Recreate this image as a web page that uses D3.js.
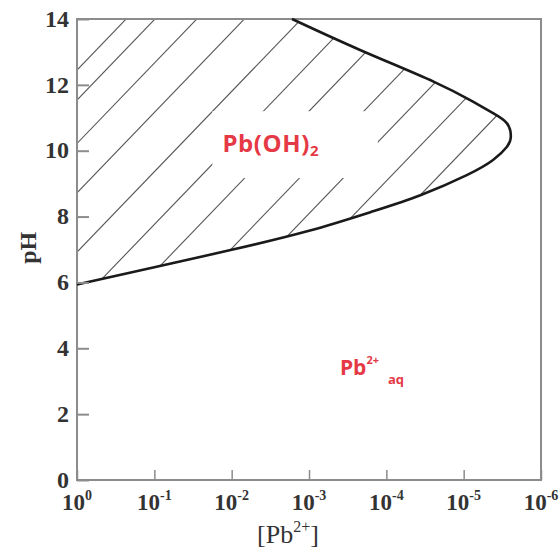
<!DOCTYPE html>
<html>
<head>
<meta charset="utf-8">
<script src="https://cdn.jsdelivr.net/npm/d3@7"></script>
<style>
  body { margin: 0; background: #fff; }
  svg { display: block; }
  .serif { font-family: "Liberation Serif", "Times New Roman", serif; fill: #333; }
  .field { font-family: "Open Sans", "Noto Sans", sans-serif; font-weight: 700; fill: #e53945; }
</style>
</head>
<body>
<svg id="chart"></svg>
<script>
// boundary of the Pb(OH)2 field
// n is the exponent of [Pb2+] = 10^-n, pH is the matching value
const boundaryExp = [0, 1.0, 2.0, 3.0, 3.8, 4.44, 5.04, 5.38, 5.56, 5.61, 5.56, 5.38, 5.12, 4.61, 3.66, 2.78];
const boundaryPH  = [5.94, 6.46, 6.99, 7.57, 8.14, 8.65, 9.26, 9.72, 10.12, 10.43, 10.83, 11.14, 11.49, 12.10, 13.06, 14.0];

// hatch lines: pH where each one meets the [Pb2+] = 1 edge
const hatchIntercepts = [12.45, 11.54, 10.22, 8.72, 6.92, 5.32, 3.88, 2.15, 0.77, -0.68, -2.18];
const hatchSlope = 2.44; // pH per decade

const xTickExps = [0, 1, 2, 3, 4, 5, 6];
const yTicks = [0, 2, 4, 6, 8, 10, 12, 14];

const W = 560, H = 551;
const margin = { top: 19, right: 19, bottom: 71, left: 77 };

const conc = n => Math.pow(10, -n);

const x = d3.scaleLog()
    .domain([1, 1e-6])
    .range([margin.left, W - margin.right]);

const y = d3.scaleLinear()
    .domain([0, 14])
    .range([H - margin.bottom, margin.top]);

const svg = d3.select('#chart')
    .attr('width', W)
    .attr('height', H);

const pts = boundaryExp.map((n, i) => [conc(n), boundaryPH[i]]);

const line = d3.line()
    .x(d => x(d[0]))
    .y(d => y(d[1]))
    .curve(d3.curveNatural);

// field outline closed along the top and left edges, used to clip the hatch
svg.append('clipPath').attr('id', 'field')
    .append('path')
    .attr('d', line(pts) + `L${x(1)},${y(14)}Z`);

svg.append('g')
    .attr('clip-path', 'url(#field)')
    .selectAll('line')
    .data(hatchIntercepts)
    .join('line')
    .attr('x1', x(1))
    .attr('y1', c => y(c))
    .attr('x2', x(1e-6))
    .attr('y2', c => y(c + hatchSlope * 6))
    .attr('stroke', '#555')
    .attr('stroke-width', 1.1);

// blank patch behind the Pb(OH)2 label
svg.append('rect')
    .attr('x', x(conc(1.75)))
    .attr('y', y(11.2))
    .attr('width', x(conc(3.89)) - x(conc(1.75)))
    .attr('height', y(9.17) - y(11.2))
    .attr('fill', '#fff');

// frame
svg.append('rect')
    .attr('x', margin.left)
    .attr('y', margin.top)
    .attr('width', W - margin.left - margin.right)
    .attr('height', H - margin.top - margin.bottom)
    .attr('fill', 'none')
    .attr('stroke', '#8c8c8c')
    .attr('stroke-width', 2);

// boundary curve
svg.append('path')
    .attr('d', line(pts))
    .attr('fill', 'none')
    .attr('stroke', '#1a1a1a')
    .attr('stroke-width', 2.6);

// x axis ticks (inward)
const gx = svg.append('g')
    .attr('transform', `translate(0,${y(0)})`)
    .call(d3.axisBottom(x)
        .tickValues(xTickExps.map(conc))
        .tickSize(-10)
        .tickFormat(''));
gx.select('.domain').remove();
gx.selectAll('line').attr('stroke', '#8c8c8c').attr('stroke-width', 1.5);

const xl = svg.append('g')
    .selectAll('text')
    .data(xTickExps)
    .join('text')
    .attr('class', 'serif')
    .attr('x', n => x(conc(n)))
    .attr('y', y(0) + 30)
    .attr('text-anchor', 'middle')
    .style('font-size', '23px')
    .style('font-weight', 'bold');
xl.append('tspan').text('10');
xl.append('tspan')
    .attr('dy', -10)
    .style('font-size', '14px')
    .text(n => n === 0 ? '0' : '-' + n);

// y axis ticks (inward)
const gy = svg.append('g')
    .attr('transform', `translate(${x(1)},0)`)
    .call(d3.axisLeft(y)
        .tickValues(yTicks)
        .tickSize(-12)
        .tickPadding(8)
        .tickFormat(d3.format('d')));
gy.select('.domain').remove();
gy.selectAll('line').attr('stroke', '#8c8c8c').attr('stroke-width', 2);
gy.selectAll('text')
    .attr('class', 'serif')
    .attr('dy', '0.3em')
    .style('font-size', '24px')
    .style('font-weight', 'bold');

// axis titles
const xt = svg.append('text')
    .attr('class', 'serif')
    .attr('x', 288)
    .attr('y', y(0) + 63)
    .attr('text-anchor', 'middle')
    .style('font-size', '26px');
xt.append('tspan').text('[Pb');
xt.append('tspan').attr('dy', -11).style('font-size', '16px').text('2+');
xt.append('tspan').attr('dy', 11).text(']');

svg.append('text')
    .attr('class', 'serif')
    .attr('transform', `translate(36,${y(7.05)}) rotate(-90)`)
    .attr('text-anchor', 'middle')
    .style('font-size', '24px')
    .style('font-weight', 'bold')
    .text('pH');

// field labels
const l1 = svg.append('text')
    .attr('class', 'field')
    .attr('x', x(conc(1.88)))
    .attr('y', y(9.95))
    .style('font-size', '24px')
    .style('letter-spacing', '0.6px');
l1.append('tspan').text('Pb(OH)');
l1.append('tspan').attr('dy', 4).style('font-size', '15px').text('2');

const l2 = svg.append('text')
    .attr('class', 'field')
    .attr('x', x(conc(3.4)))
    .attr('y', y(3.2))
    .style('font-size', '21px');
l2.append('tspan').text('Pb');
l2.append('tspan').attr('dy', -11).style('font-size', '11px').text('2+');
l2.append('tspan').attr('dx', 9).attr('dy', 20).style('font-size', '13px').text('aq');
</script>
</body>
</html>
